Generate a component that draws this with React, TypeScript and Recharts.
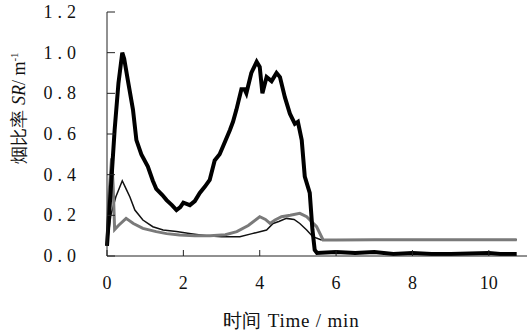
import { LineChart, Line, XAxis, YAxis } from 'recharts';

// thick black curve
const thickTime = [0, 0.1, 0.2, 0.3, 0.4, 0.45, 0.55, 0.68, 0.77, 0.9, 1.07, 1.2, 1.29, 1.45, 1.56, 1.7, 1.82, 1.92, 2.0, 2.17, 2.3, 2.43, 2.56, 2.69, 2.82, 2.95, 3.04, 3.22, 3.3, 3.39, 3.52, 3.6, 3.65, 3.78, 3.92, 4.0, 4.07, 4.18, 4.31, 4.44, 4.53, 4.66, 4.79, 4.92, 5.0, 5.1, 5.18, 5.31, 5.38, 5.44, 5.5, 6, 6.5, 7, 7.5, 8, 8.5, 9, 9.5, 10, 10.3, 10.73];
const thickValues = [0.05, 0.33, 0.62, 0.85, 1.0, 0.97, 0.86, 0.72, 0.57, 0.5, 0.44, 0.37, 0.33, 0.3, 0.275, 0.25, 0.226, 0.24, 0.262, 0.25, 0.27, 0.31, 0.34, 0.374, 0.47, 0.5, 0.54, 0.62, 0.66, 0.72, 0.82, 0.82, 0.8, 0.9, 0.955, 0.93, 0.8, 0.88, 0.86, 0.9, 0.88, 0.78, 0.7, 0.65, 0.66, 0.57, 0.39, 0.31, 0.13, 0.03, 0.015, 0.02, 0.015, 0.02, 0.01, 0.015, 0.01, 0.01, 0.012, 0.015, 0.01, 0.01];

// thin black curve
const thinTime = [0, 0.1, 0.23, 0.4, 0.5, 0.6, 0.73, 0.94, 1.2, 1.47, 1.82, 2.2, 2.6, 3.0, 3.48, 3.8, 4.18, 4.35, 4.5, 4.7, 4.9, 5.05, 5.23, 5.39, 5.6, 6, 7, 8, 9, 10, 10.73];
const thinValues = [0.05, 0.2, 0.29, 0.37, 0.33, 0.29, 0.226, 0.177, 0.144, 0.128, 0.12, 0.11, 0.1, 0.095, 0.095, 0.11, 0.128, 0.16, 0.17, 0.185, 0.18, 0.16, 0.128, 0.095, 0.08, 0.08, 0.08, 0.08, 0.08, 0.08, 0.08];

// grey curve
const greyTime = [0, 0.05, 0.12, 0.16, 0.2, 0.3, 0.5, 0.69, 0.94, 1.29, 1.56, 1.9, 2.3, 2.7, 3.1, 3.4, 3.7, 4.0, 4.15, 4.27, 4.4, 4.57, 4.8, 5.05, 5.23, 5.49, 5.66, 6, 7, 8, 9, 10, 10.73];
const greyValues = [0.05, 0.3, 0.48, 0.35, 0.13, 0.15, 0.185, 0.16, 0.136, 0.12, 0.11, 0.103, 0.1, 0.1, 0.105, 0.12, 0.15, 0.193, 0.18, 0.16, 0.177, 0.193, 0.2, 0.21, 0.193, 0.144, 0.079, 0.079, 0.08, 0.08, 0.08, 0.08, 0.08];

const xTicks = [0, 2, 4, 6, 8, 10];
const yTicks = [0, 0.2, 0.4, 0.6, 0.8, 1.0, 1.2];

const toPoints = (ts: number[], vs: number[]) => ts.map((t, i) => ({ t, v: vs[i] }));

const thickData = toPoints(thickTime, thickValues);
const thinData = toPoints(thinTime, thinValues);
const greyData = toPoints(greyTime, greyValues);

const FONT = 'Liberation Serif';
const AXIS_X = 107; // y axis line
const AXIS_Y = 256; // x axis line

const YTick = (props: any) => {
  const { y, payload } = props;
  return (
    <g>
      <line x1={AXIS_X} x2={AXIS_X + 8} y1={y} y2={y} stroke="#222" />
      <text x={81} y={y} dy={6} textAnchor="end" style={{ fontFamily: FONT, letterSpacing: '5px' }} fontSize={18} fill="#111">
        {payload.value.toFixed(1)}
      </text>
    </g>
  );
};

const XTick = (props: any) => {
  const { x, payload } = props;
  return (
    <g>
      <line x1={x} x2={x} y1={AXIS_Y} y2={AXIS_Y - 6} stroke="#222" />
      <text x={x} y={289} textAnchor="middle" style={{ fontFamily: FONT }} fontSize={18} fill="#111">
        {payload.value}
      </text>
    </g>
  );
};

const XTitle = () => (
  <text x={291} y={327} textAnchor="middle" style={{ fontFamily: FONT }} fontSize={19} fill="#111" letterSpacing={0.8}>
    时间 Time / min
  </text>
);

const YTitle = () => (
  <text
    transform="rotate(-90, 19, 108)"
    x={19}
    y={108}
    dy={6}
    textAnchor="middle"
    style={{ fontFamily: FONT }}
    fontSize={18}
    fill="#111"
  >
    烟比率 <tspan fontStyle="italic">SR</tspan>/ m<tspan dy={-7} fontSize={11}>-1</tspan>
  </text>
);

export default function App() {
  return (
    <div style={{ position: 'absolute', left: 0, top: 0, background: '#fff' }}>
      <LineChart width={532} height={336} margin={{ top: 12, right: 5, left: 0, bottom: 0 }}>
        <XAxis
          type="number"
          dataKey="t"
          domain={[0, 11]}
          ticks={xTicks}
          height={80}
          tickLine={false}
          tick={<XTick />}
          stroke="#222"
          allowDuplicatedCategory={false}
          label={{ content: <XTitle /> }}
        />
        <YAxis
          type="number"
          dataKey="v"
          domain={[0, 1.2]}
          ticks={yTicks}
          width={107}
          tickLine={false}
          tick={<YTick />}
          stroke="#222"
          label={{ content: <YTitle /> }}
        />
        <Line data={thinData} dataKey="v" stroke="#111" strokeWidth={1.5} dot={false} isAnimationActive={false} />
        <Line data={greyData} dataKey="v" stroke="#7a7a7a" strokeWidth={3} dot={false} isAnimationActive={false} />
        <Line data={thickData} dataKey="v" stroke="#000" strokeWidth={4} dot={false} isAnimationActive={false} />
      </LineChart>
    </div>
  );
}
